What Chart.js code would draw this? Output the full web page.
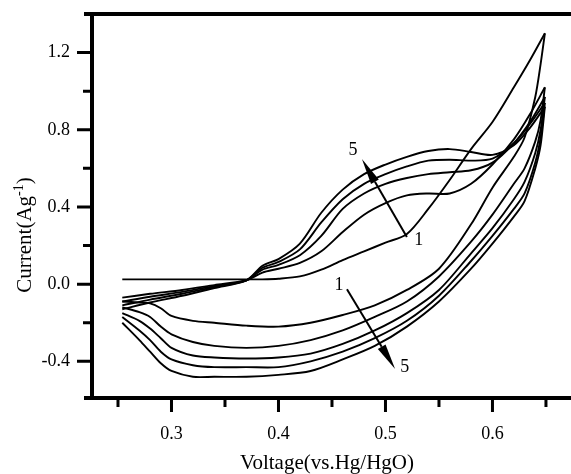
<!DOCTYPE html>
<html>
<head>
<meta charset="utf-8">
<script src="https://cdn.jsdelivr.net/npm/chart.js@4.4.1/dist/chart.umd.min.js"></script>
<style>
  html, body { margin: 0; padding: 0; background: #fff; }
</style>
</head>
<body>
<canvas id="cvChart" width="571" height="474"></canvas>
<script>
// voltage grids, V vs Hg/HgO
const anodicV   = [0.254, 0.28, 0.31, 0.34, 0.37, 0.385, 0.40, 0.42, 0.44, 0.46, 0.48, 0.50, 0.52, 0.54, 0.56, 0.58, 0.60, 0.62, 0.635, 0.649];
const cathodicV = [0.649, 0.645, 0.64, 0.63, 0.62, 0.60, 0.58, 0.55, 0.52, 0.49, 0.46, 0.43, 0.40, 0.37, 0.34, 0.32, 0.30, 0.29, 0.28, 0.27, 0.254];

// current (A/g), forward sweep of cycles 1..5
const anodic1 = [0.025, 0.025, 0.025, 0.025, 0.025, 0.025, 0.028, 0.04, 0.075, 0.125, 0.17, 0.215, 0.26, 0.39, 0.54, 0.70, 0.84, 1.02, 1.16, 1.30];
const anodic2 = [-0.07, -0.05, -0.03, -0.005, 0.02, 0.06, 0.08, 0.11, 0.17, 0.27, 0.36, 0.42, 0.46, 0.47, 0.47, 0.52, 0.62, 0.75, 0.88, 1.02];
const anodic3 = [-0.09, -0.065, -0.04, -0.01, 0.02, 0.075, 0.10, 0.15, 0.25, 0.39, 0.47, 0.52, 0.55, 0.57, 0.58, 0.59, 0.63, 0.73, 0.84, 0.97];
const anodic4 = [-0.11, -0.08, -0.05, -0.015, 0.02, 0.085, 0.115, 0.18, 0.32, 0.44, 0.52, 0.57, 0.61, 0.64, 0.645, 0.64, 0.65, 0.73, 0.83, 0.94];
const anodic5 = [-0.13, -0.095, -0.06, -0.02, 0.02, 0.095, 0.13, 0.21, 0.37, 0.49, 0.57, 0.62, 0.66, 0.69, 0.70, 0.685, 0.67, 0.72, 0.81, 0.92];

// current (A/g), reverse sweep of cycles 1..5
const cathodic1 = [1.30, 1.14, 0.97, 0.76, 0.66, 0.50, 0.31, 0.08, -0.03, -0.11, -0.16, -0.20, -0.22, -0.215, -0.20, -0.19, -0.165, -0.125, -0.10, -0.095, -0.09];
const cathodic2 = [1.02, 0.85, 0.74, 0.60, 0.52, 0.36, 0.22, 0.04, -0.09, -0.17, -0.24, -0.29, -0.32, -0.33, -0.32, -0.30, -0.26, -0.22, -0.17, -0.145, -0.12];
const cathodic3 = [0.97, 0.80, 0.68, 0.53, 0.44, 0.29, 0.16, -0.03, -0.15, -0.24, -0.31, -0.36, -0.38, -0.385, -0.38, -0.37, -0.33, -0.28, -0.23, -0.19, -0.15];
const cathodic4 = [0.94, 0.76, 0.63, 0.47, 0.39, 0.25, 0.12, -0.06, -0.19, -0.28, -0.35, -0.40, -0.43, -0.43, -0.43, -0.42, -0.39, -0.35, -0.29, -0.24, -0.17];
const cathodic5 = [0.92, 0.72, 0.60, 0.43, 0.35, 0.21, 0.08, -0.09, -0.22, -0.32, -0.39, -0.45, -0.47, -0.48, -0.48, -0.48, -0.45, -0.41, -0.35, -0.29, -0.20];

// ticks
const xMajor = [0.3, 0.4, 0.5, 0.6];
const xLabels = ['0.3', '0.4', '0.5', '0.6'];
const xMinor = [0.25, 0.35, 0.45, 0.55, 0.65];
const yMajor = [-0.4, 0.0, 0.4, 0.8, 1.2];
const yLabels = ['-0.4', '0.0', '0.4', '0.8', '1.2'];
const yMinor = [-0.2, 0.2, 0.6, 1.0];

// cycle arrows and their numbers
const arrowTailV = [0.520, 0.464];
const arrowTailI = [0.244, -0.026];
const arrowTipV  = [0.478, 0.509];
const arrowTipI  = [0.648, -0.44];
const noteText = ['5', '1', '1', '5'];
const noteV = [0.4696, 0.531, 0.4565, 0.518];
const noteI = [0.695, 0.23, -0.005, -0.43];

const serif = "'Liberation Serif', 'DejaVu Serif', serif";

function toPoints(xs, ys) {
  return xs.map((x, i) => ({ x: x, y: ys[i] }));
}

const sweeps = [
  toPoints(anodicV, anodic1), toPoints(cathodicV, cathodic1),
  toPoints(anodicV, anodic2), toPoints(cathodicV, cathodic2),
  toPoints(anodicV, anodic3), toPoints(cathodicV, cathodic3),
  toPoints(anodicV, anodic4), toPoints(cathodicV, cathodic4),
  toPoints(anodicV, anodic5), toPoints(cathodicV, cathodic5)
];

const datasets = sweeps.map(pts => ({
  data: pts,
  showLine: true,
  borderColor: '#000',
  borderWidth: 1.9,
  pointRadius: 0,
  tension: 0.3
}));

function findLabel(values, labels, v) {
  const i = values.findIndex(m => Math.abs(m - v) < 1e-6);
  return i >= 0 ? labels[i] : '';
}

// frame, tick marks and axis titles
const framePlugin = {
  id: 'frame',
  afterDraw(chart) {
    const ctx = chart.ctx;
    const ca = chart.chartArea;
    const xs = chart.scales.x, ys = chart.scales.y;
    ctx.save();
    ctx.strokeStyle = '#000';
    ctx.lineCap = 'butt';

    ctx.lineWidth = 4;
    ctx.beginPath();
    ctx.moveTo(ca.left - 8, ca.top); ctx.lineTo(ca.right, ca.top);
    ctx.moveTo(ca.left - 8, ca.bottom); ctx.lineTo(ca.right, ca.bottom);
    ctx.moveTo(ca.left, ca.top); ctx.lineTo(ca.left, ca.bottom);
    ctx.stroke();

    ctx.lineWidth = 3;
    ctx.beginPath();
    yMajor.forEach(v => { const p = ys.getPixelForValue(v); ctx.moveTo(ca.left - 15, p); ctx.lineTo(ca.left, p); });
    yMinor.forEach(v => { const p = ys.getPixelForValue(v); ctx.moveTo(ca.left - 9, p); ctx.lineTo(ca.left, p); });
    xMajor.forEach(v => { const p = xs.getPixelForValue(v); ctx.moveTo(p, ca.bottom); ctx.lineTo(p, ca.bottom + 14); });
    xMinor.forEach(v => { const p = xs.getPixelForValue(v); ctx.moveTo(p, ca.bottom); ctx.lineTo(p, ca.bottom + 9); });
    ctx.stroke();

    ctx.fillStyle = '#000';
    ctx.font = '21px ' + serif;
    ctx.textAlign = 'center';
    ctx.textBaseline = 'alphabetic';
    ctx.fillText('Voltage(vs.Hg/HgO)', 327, 469);

    // y title with superscript
    ctx.translate(31, 235);
    ctx.rotate(-Math.PI / 2);
    const a = 'Current(Ag', b = '-1', c = ')';
    ctx.font = '21px ' + serif;
    const wa = ctx.measureText(a).width;
    const wc = ctx.measureText(c).width;
    ctx.font = '14px ' + serif;
    const wb = ctx.measureText(b).width;
    const x0 = -(wa + wb + wc) / 2;
    ctx.textAlign = 'left';
    ctx.font = '21px ' + serif;
    ctx.fillText(a, x0, 0);
    ctx.font = '14px ' + serif;
    ctx.fillText(b, x0 + wa, -8);
    ctx.font = '21px ' + serif;
    ctx.fillText(c, x0 + wa + wb, 0);
    ctx.restore();
  }
};

// arrows showing cycle order
const arrowPlugin = {
  id: 'arrows',
  afterDatasetsDraw(chart) {
    const ctx = chart.ctx;
    const xs = chart.scales.x, ys = chart.scales.y;
    ctx.save();
    ctx.strokeStyle = '#000';
    ctx.fillStyle = '#000';
    arrowTailV.forEach((v, i) => {
      const x1 = xs.getPixelForValue(v), y1 = ys.getPixelForValue(arrowTailI[i]);
      const x2 = xs.getPixelForValue(arrowTipV[i]), y2 = ys.getPixelForValue(arrowTipI[i]);
      const ang = Math.atan2(y2 - y1, x2 - x1);
      const len = 26, hw = 4.5;
      const bx = x2 - len * Math.cos(ang), by = y2 - len * Math.sin(ang);
      ctx.lineWidth = 2;
      ctx.beginPath();
      ctx.moveTo(x1, y1); ctx.lineTo(bx, by);
      ctx.stroke();
      ctx.beginPath();
      ctx.moveTo(x2, y2);
      ctx.lineTo(bx + hw * Math.sin(ang), by - hw * Math.cos(ang));
      ctx.lineTo(bx - hw * Math.sin(ang), by + hw * Math.cos(ang));
      ctx.closePath();
      ctx.fill();
    });
    ctx.font = '18px ' + serif;
    ctx.textAlign = 'center';
    ctx.textBaseline = 'middle';
    noteText.forEach((t, i) => {
      ctx.fillText(t, xs.getPixelForValue(noteV[i]), ys.getPixelForValue(noteI[i]));
    });
    ctx.restore();
  }
};

new Chart(document.getElementById('cvChart'), {
  type: 'scatter',
  data: { datasets: datasets },
  options: {
    responsive: false,
    animation: false,
    devicePixelRatio: 1,
    layout: { padding: { top: 14, right: 0, left: 0, bottom: 0 } },
    plugins: { legend: { display: false }, tooltip: { enabled: false } },
    scales: {
      x: {
        type: 'linear',
        min: 0.2257,
        max: 0.6734,
        grid: { display: false, drawTicks: false },
        border: { display: false },
        afterBuildTicks: s => { s.ticks = xMinor.concat(xMajor).sort((p, q) => p - q).map(v => ({ value: v })); },
        afterFit: s => { s.height = 76; s.paddingLeft = 0; s.paddingRight = 0; },
        ticks: {
          autoSkip: false,
          maxRotation: 0,
          padding: 25,
          color: '#000',
          font: { family: serif, size: 18 },
          callback: v => findLabel(xMajor, xLabels, v)
        }
      },
      y: {
        min: -0.59,
        max: 1.40,
        grid: { display: false, drawTicks: false },
        border: { display: false },
        afterBuildTicks: s => { s.ticks = yMinor.concat(yMajor).sort((p, q) => p - q).map(v => ({ value: v })); },
        afterFit: s => { s.width = 92; s.paddingTop = 0; s.paddingBottom = 0; },
        ticks: {
          autoSkip: false,
          padding: 22,
          color: '#000',
          font: { family: serif, size: 18 },
          callback: v => findLabel(yMajor, yLabels, v)
        }
      }
    }
  },
  plugins: [framePlugin, arrowPlugin]
});
</script>
</body>
</html>
